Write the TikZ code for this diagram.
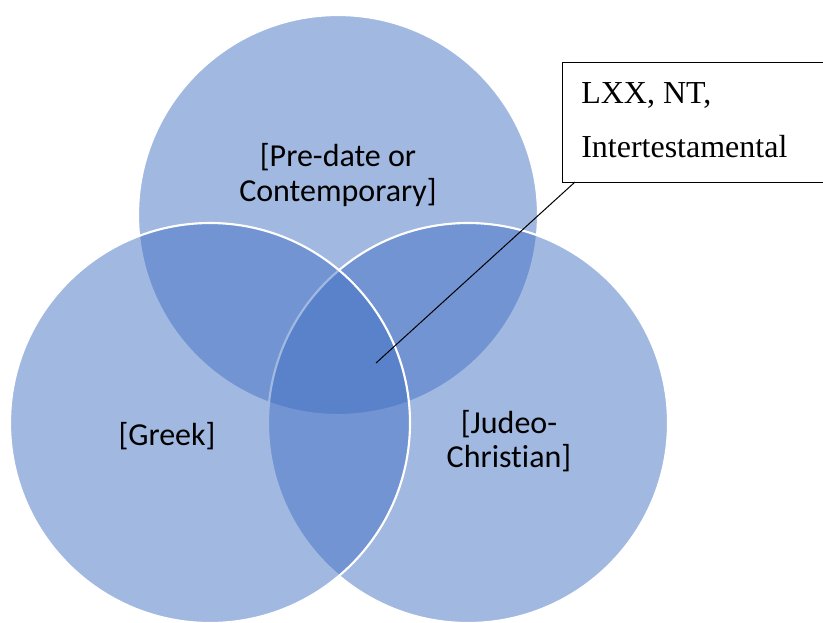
\documentclass[tikz,border=0pt]{standalone}
\usepackage{fontspec}
\setmainfont[Ligatures=NoCommon]{Carlito}
\newfontfamily\timesfont{Liberation Serif}
\definecolor{accent}{HTML}{4472C4}
\begin{document}
\begin{tikzpicture}[x=0.75pt,y=-0.75pt,
  venn/.style={circle,minimum size=300pt,inner sep=0pt,fill=accent,fill opacity=0.5,draw=white,draw opacity=1,line width=1.6pt},
  lbl/.style={font=\fontsize{24}{26}\selectfont,align=center,text=black,inner sep=0pt},
  calltxt/.style={font=\timesfont\fontsize{24}{41}\selectfont,anchor=base west,inner sep=0pt}]
\clip (0,0) rectangle (823,622);
\fill[white] (0,0) rectangle (823,622);
\node[venn] (top) at (338,215) {};
\node[venn] (right) at (468,423) {};
\node[venn] (left) at (210,423) {};
\node[lbl] (ttop) at (338,175) {[Pre-date or\\Contemporary]};
\node[lbl,anchor=base] (tleft) at (167,445) {[Greek]};
\node[lbl] (tright) at (509,441) {[Judeo-\\Christian]};
\node[draw=black,line width=1pt,fill=white,minimum width=270pt,minimum height=90pt,anchor=north west,inner sep=0pt] (callout) at (562,62) {};
\node[calltxt] (c1) at (581,103) {LXX, NT,};
\node[calltxt] (c2) at (581,157) {Intertestamental};
\coordinate (tip) at (376,363);
\coordinate (attach) at (575,182);
\draw[black,line width=0.75pt] (tip) -- (attach);
\end{tikzpicture}
\end{document}
